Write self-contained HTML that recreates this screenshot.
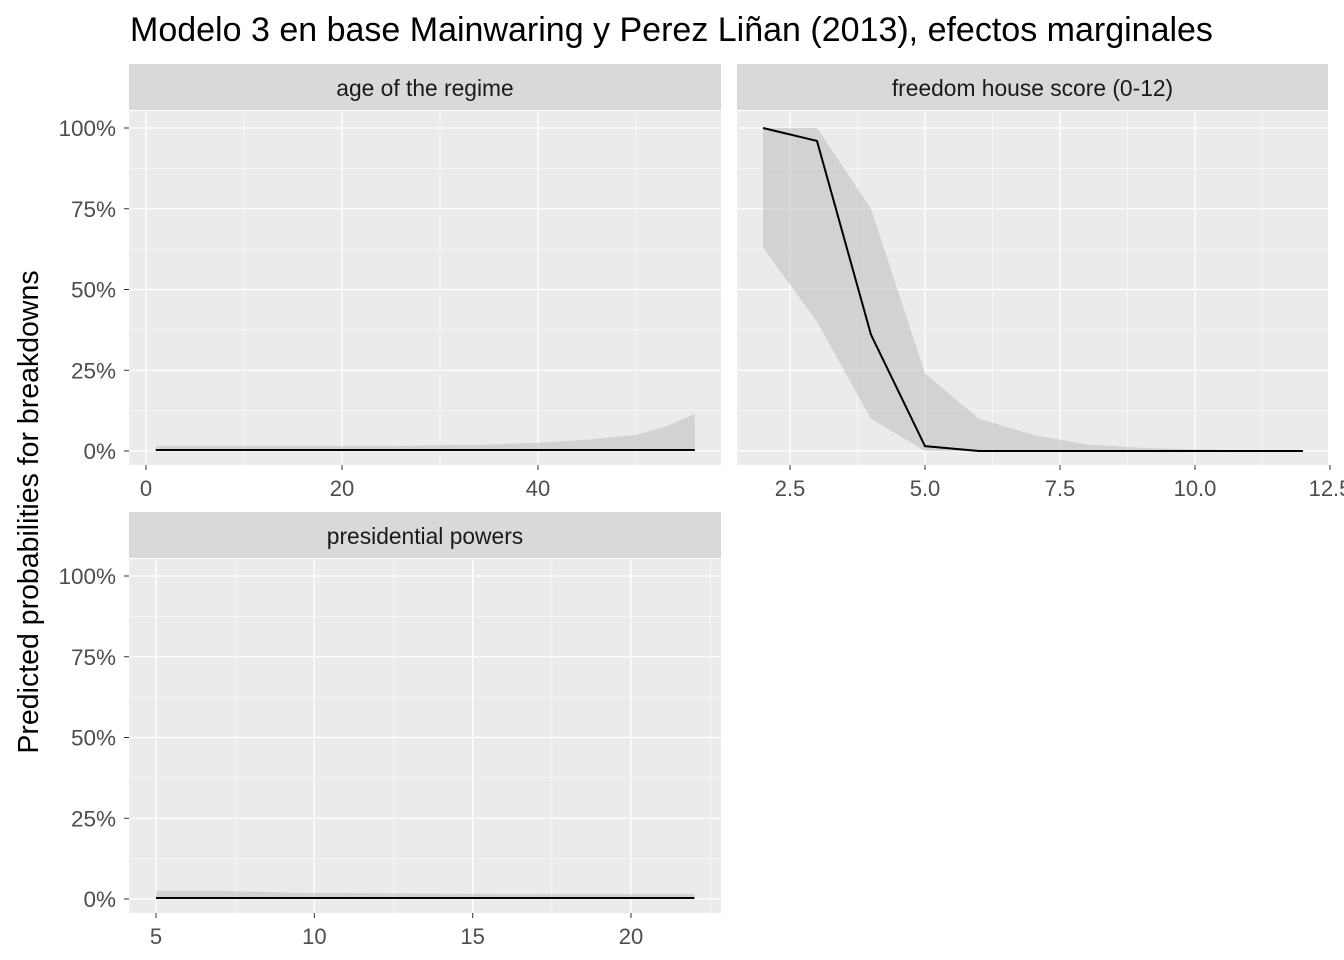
<!DOCTYPE html>
<html><head><meta charset="utf-8"><style>body{margin:0;background:#fff}svg{display:block;font-family:"Liberation Sans",Arial,sans-serif}</style></head>
<body>
<svg id="c" width="1344" height="960"></svg>
<script>
const ageX=[1,5,10,15,20,25,30,35,40,45,50,53,56];
const ageMean=[0.3,0.3,0.3,0.3,0.3,0.3,0.3,0.3,0.3,0.3,0.3,0.3,0.3];
const ageLo=[0,0,0,0,0,0,0,0,0,0,0,0,0];
const ageHi=[1.5,1.5,1.5,1.5,1.5,1.5,1.8,2,2.5,3.5,5,7.5,11.5];
const fhX=[2,3,4,5,6,7,8,9,10,11,12];
const fhMean=[100,96,36,1.5,0,0,0,0,0,0,0];
const fhLo=[63,40,10,0,0,0,0,0,0,0,0];
const fhHi=[100,100,75,24,10,5,2,1,0.5,0.2,0.1];
const ppX=[5,7,9,12,15,18,22];
const ppMean=[0.3,0.3,0.3,0.3,0.3,0.3,0.3];
const ppLo=[0,0,0,0,0,0,0];
const ppHi=[2.5,2.5,2,1.8,1.6,1.5,1.5];
const yTicks=[0,25,50,75,100];
const ageTicks=[0,20,40], ageMinor=[10,30,50];
const fhTicks=[2.5,5,7.5,10,12.5], fhMinor=[3.75,6.25,8.75,11.25];
const ppTicks=[5,10,15,20], ppMinor=[7.5,12.5,17.5,22.5];
const NS='http://www.w3.org/2000/svg', svg=document.getElementById('c');
function mk(t,a,p){const e=document.createElementNS(NS,t);for(const k in a)e.setAttribute(k,a[k]);(p||svg).appendChild(e);return e;}
const title=mk('text',{x:130,y:41,'font-size':'34px',fill:'#000'});title.textContent='Modelo 3 en base Mainwaring y Perez Liñan (2013), efectos marginales';


const yt=mk('text',{transform:'translate(38,512) rotate(-90)','text-anchor':'middle','font-size':'28.5px',fill:'#000'});yt.textContent='Predicted probabilities for breakdowns';


function panel(name,label,x0,x1,top,dx0,px0,dx1,px1,ticks,minor,xs,mean,lo,hi,leftAxis,tickFmt){
  const g=mk('g',{});
  
  
  mk('rect',{x:x0,y:top,width:x1-x0,height:46,fill:'#d9d9d9'},g);
  const stt=mk('text',{x:(x0+x1)/2,y:top+32,'text-anchor':'middle','font-size':'22.8px',fill:'#1a1a1a'},g);stt.textContent=label;
  
  
  const pt=top+47,pb=pt+354;
  mk('rect',{x:x0,y:pt,width:x1-x0,height:354,fill:'#ebebeb'},g);
  const y0=pt+340,y100=pt+17;
  const Y=v=>y0+(y100-y0)*v/100, X=v=>px0+(px1-px0)*(v-dx0)/(dx1-dx0);
  [12.5,37.5,62.5,87.5].forEach(v=>mk('line',{x1:x0,x2:x1,y1:Y(v),y2:Y(v),stroke:'#fff','stroke-width':0.6},g));
  minor.forEach(v=>{if(X(v)>x0&&X(v)<x1)mk('line',{x1:X(v),x2:X(v),y1:pt,y2:pb,stroke:'#fff','stroke-width':0.6},g);});
  yTicks.forEach(v=>mk('line',{x1:x0,x2:x1,y1:Y(v),y2:Y(v),stroke:'#fff','stroke-width':1.3},g));
  ticks.forEach(v=>{if(X(v)>x0&&X(v)<x1)mk('line',{x1:X(v),x2:X(v),y1:pt,y2:pb,stroke:'#fff','stroke-width':1.3},g);});
  let d='';xs.forEach((v,i)=>d+=(i?'L':'M')+X(v)+','+Y(hi[i]));for(let i=xs.length-1;i>=0;i--)d+='L'+X(xs[i])+','+Y(lo[i]);
  const rb=mk('path',{d:d+'Z',fill:'#bdbdbd','fill-opacity':0.55},g);
  
  
  const ln=mk('polyline',{points:xs.map((v,i)=>X(v)+','+Y(mean[i])).join(' '),fill:'none',stroke:'#000','stroke-width':2},g);
  
  
  ticks.forEach(v=>{const x=X(v);mk('line',{x1:x,x2:x,y1:pb,y2:pb+5,stroke:'#333','stroke-width':1},g);
    const t=mk('text',{x:x,y:pb+31,'text-anchor':'middle','font-size':'22px',fill:'#4d4d4d'},g);t.textContent=tickFmt(v);
    
    });
  if(leftAxis)yTicks.forEach(v=>{mk('line',{x1:x0-5,x2:x0,y1:Y(v),y2:Y(v),stroke:'#333','stroke-width':1},g);
    const t=mk('text',{x:x0-13,y:Y(v)+8,'text-anchor':'end','font-size':'22.5px',fill:'#4d4d4d'},g);t.textContent=v+'%';
    
    });
}
panel('panel-age','age of the regime',129,721,64,0,146,40,538,ageTicks,ageMinor,ageX,ageMean,ageLo,ageHi,true,v=>String(v));
panel('panel-freedom-house','freedom house score (0-12)',737,1328,64,2.5,790,5,925,fhTicks,fhMinor,fhX,fhMean,fhLo,fhHi,false,v=>v.toFixed(1));
panel('panel-presidential-powers','presidential powers',129,721,512,5,156,20,631,ppTicks,ppMinor,ppX,ppMean,ppLo,ppHi,true,v=>String(v));
</script>
</body></html>
